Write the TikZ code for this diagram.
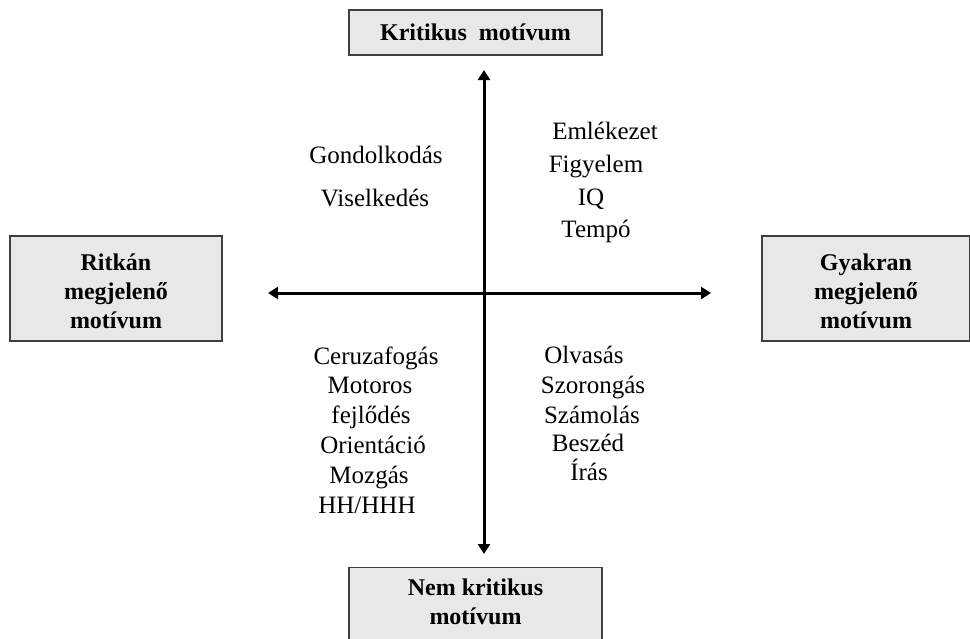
\documentclass[tikz,border=0pt]{standalone}
\usepackage{fontspec}
\setmainfont{Liberation Serif}
\usetikzlibrary{arrows.meta}
\begin{document}
\begin{tikzpicture}[x=1pt,y=-1pt,
  catbox/.style={draw=black!75,line width=1.2pt,fill=black!9,inner sep=0pt,
    font=\fontsize{24}{29}\selectfont\bfseries,align=center},
  item/.style={inner sep=0pt,anchor=base,font=\fontsize{25}{30}\selectfont},
  axis/.style={line width=3pt,-{Triangle[length=10pt,width=12pt]}}]
\useasboundingbox (0,0) rectangle (970,638);
% category boxes
\node[catbox,minimum width=253pt,minimum height=45pt] (top) at (475.5,32.5) {Kritikus\ \ motívum};
\node[catbox,minimum width=212pt,minimum height=105pt] (left) at (116,288.5) {};
\node[catbox,draw=none,fill=none] (lefttext) at (116,291.5) {Ritkán\\megjelenő\\motívum};
\node[catbox,minimum width=208pt,minimum height=105pt] (right) at (866,288.5) {};
\node[catbox,draw=none,fill=none] (righttext) at (866,291.5) {Gyakran\\megjelenő\\motívum};
\node[catbox,minimum width=253pt,minimum height=80pt,anchor=north] (bottom) at (475.5,566.5) {};
\node[catbox,draw=none,fill=none,anchor=north] (bottomtext) at (475.5,578) {Nem kritikus\\motívum};
% axes
\coordinate (c) at (484,293);
\coordinate (up) at (484,70);
\coordinate (down) at (484,554);
\coordinate (west) at (268,293);
\coordinate (east) at (711,293);
\draw[axis] (c) -- (up);
\draw[axis] (c) -- (down);
\draw[axis] (c) -- (west);
\draw[axis] (c) -- (east);
% upper left quadrant
\node[item] (q1a) at (376,163) {Gondolkodás};
\node[item] (q1b) at (375,206) {Viselkedés};
% upper right quadrant
\node[item] (q2a) at (605,139) {Emlékezet};
\node[item] (q2b) at (596,172) {Figyelem};
\node[item] (q2c) at (591,205) {IQ};
\node[item] (q2d) at (596,237) {Tempó};
% lower left quadrant
\node[item] (q3a) at (376,364) {Ceruzafogás};
\node[item] (q3b) at (370,393) {Motoros};
\node[item] (q3c) at (371,423) {fejlődés};
\node[item] (q3d) at (373,453) {Orientáció};
\node[item] (q3e) at (369,483) {Mozgás};
\node[item] (q3f) at (367,513) {HH/HHH};
% lower right quadrant
\node[item] (q4a) at (584,363) {Olvasás};
\node[item] (q4b) at (593,393) {Szorongás};
\node[item] (q4c) at (592,423) {Számolás};
\node[item] (q4d) at (588,451) {Beszéd};
\node[item] (q4e) at (589,480) {Írás};
\end{tikzpicture}
\end{document}
